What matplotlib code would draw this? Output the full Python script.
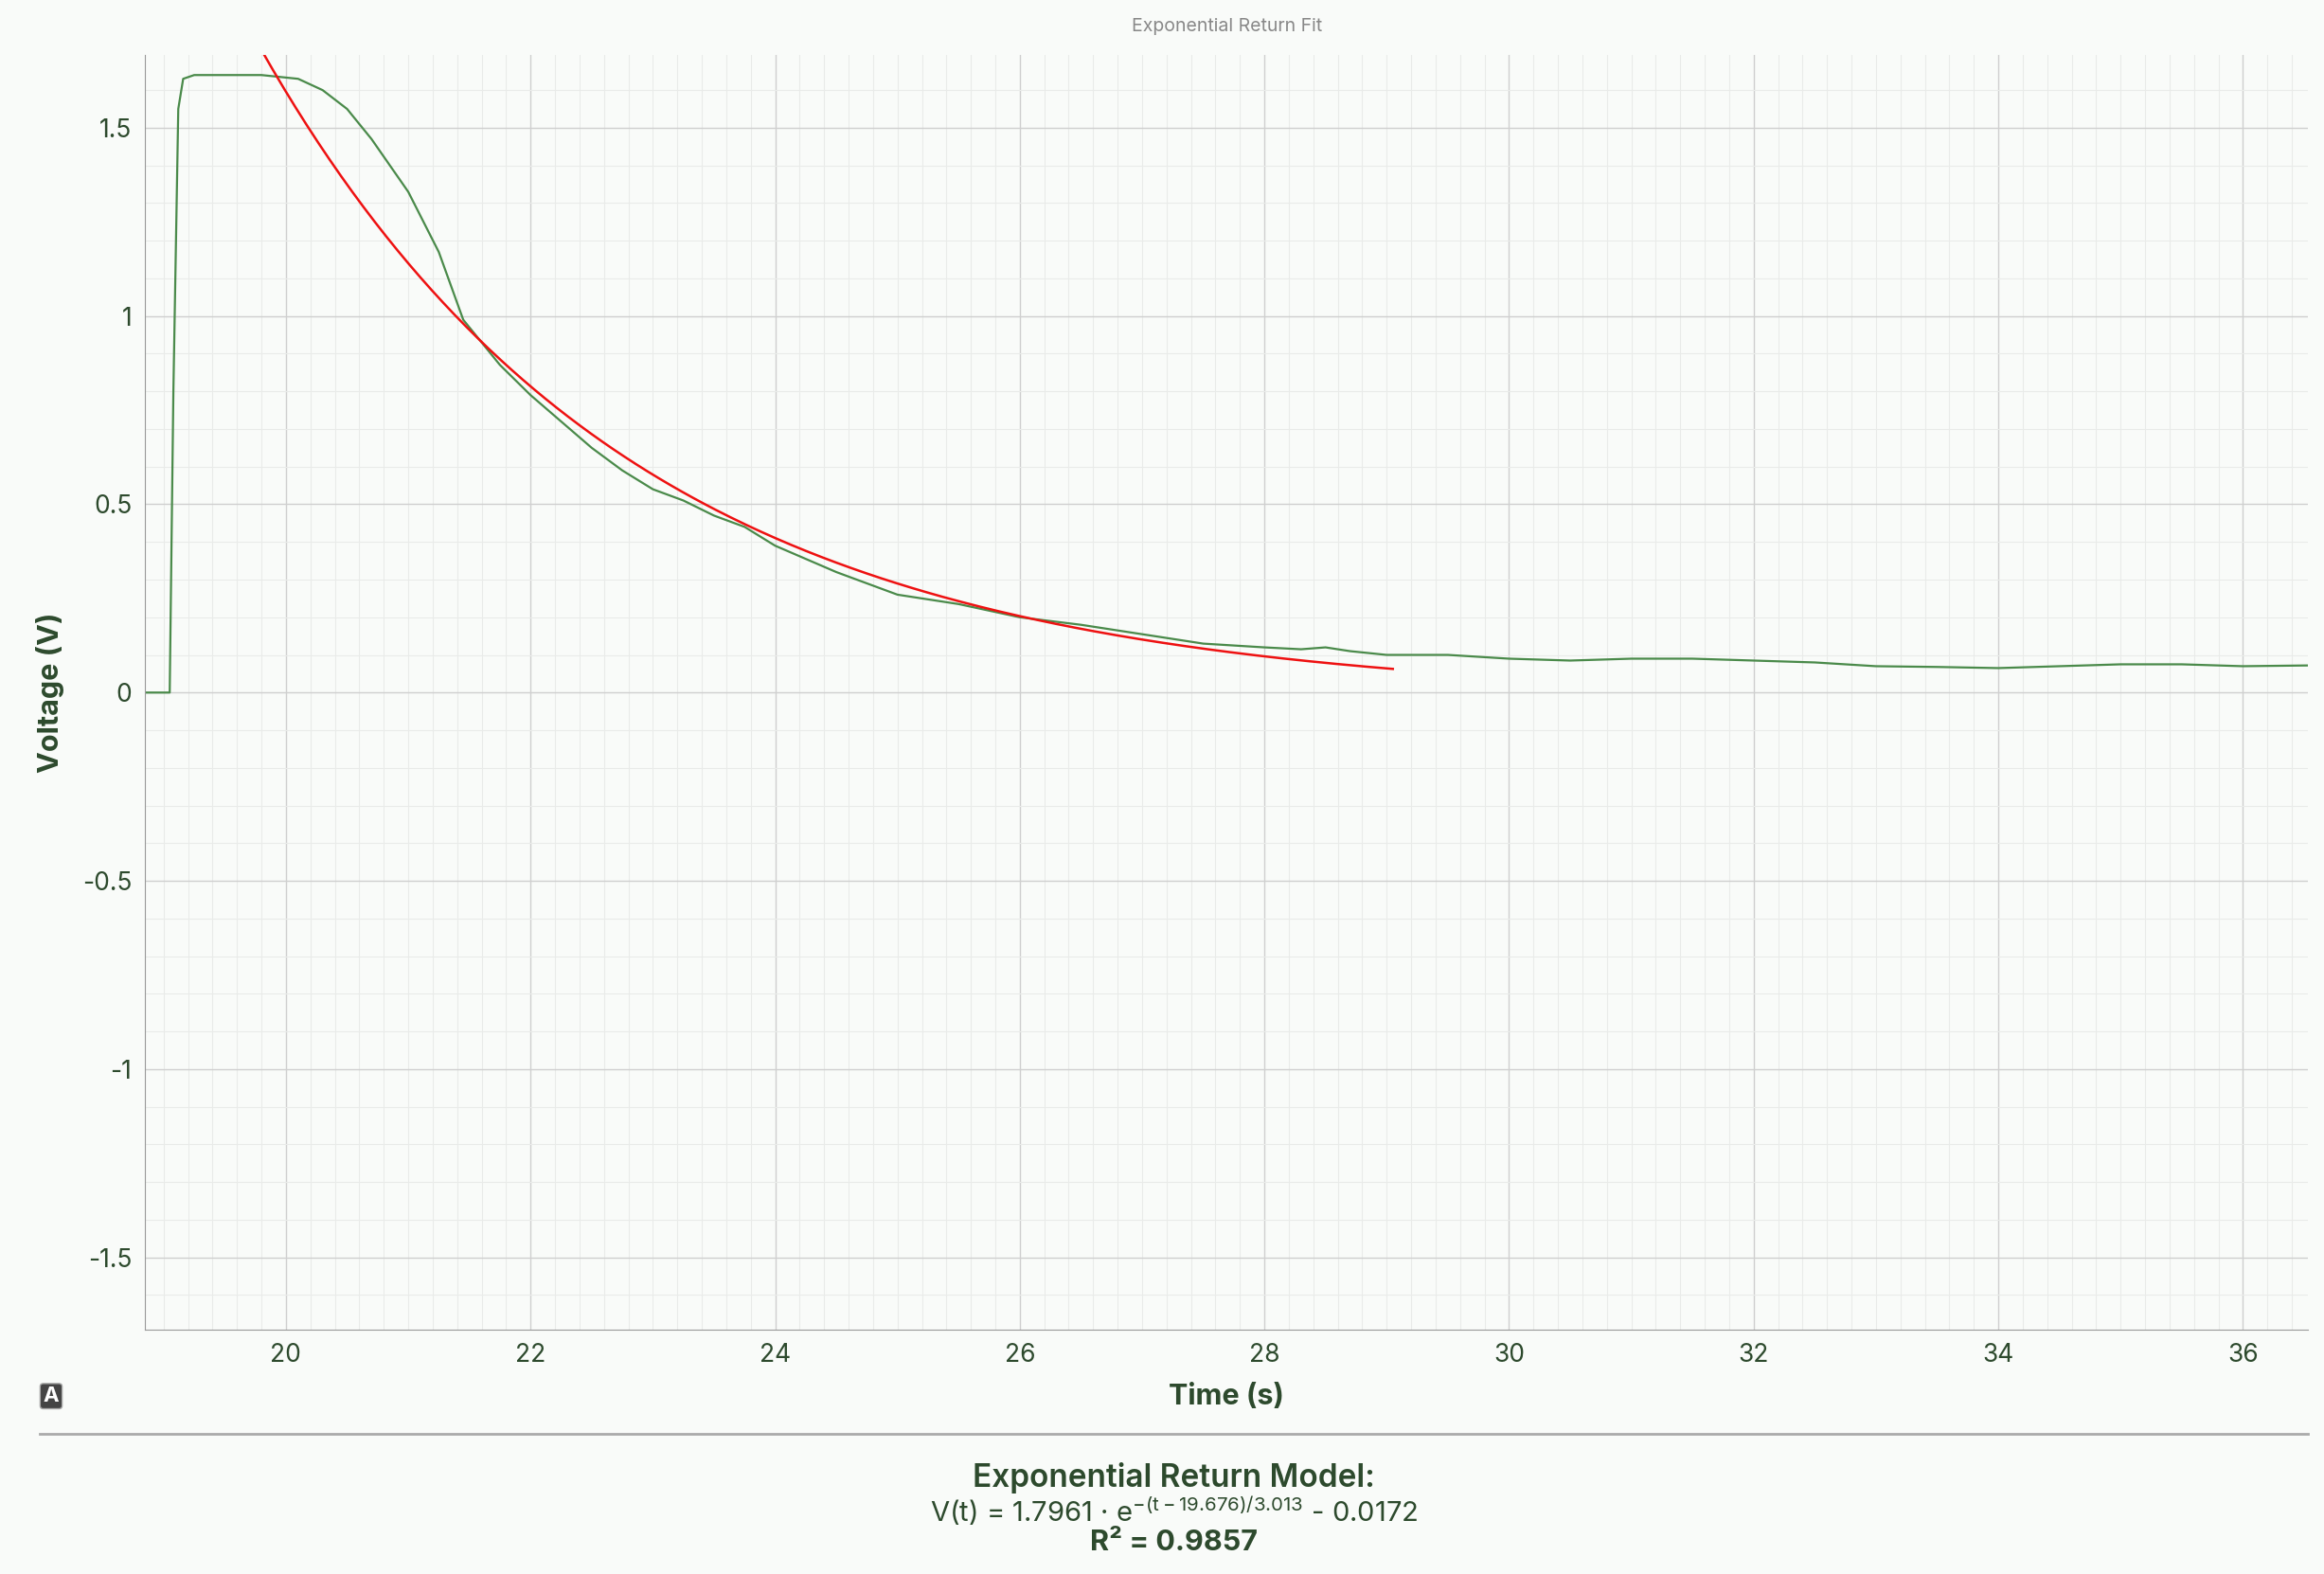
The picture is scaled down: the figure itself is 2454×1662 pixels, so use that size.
import numpy as np
import matplotlib
matplotlib.use("Agg")
import matplotlib.pyplot as plt
from matplotlib.ticker import MultipleLocator

plt.rcParams['font.family'] = ['Inter', 'DejaVu Sans']
plt.rcParams['mathtext.default'] = 'regular'

# measured trace (time s, voltage V)
t_data = [18.85, 19.0, 19.05, 19.08, 19.12, 19.16, 19.25, 19.5, 19.8, 20.1, 20.3, 20.5, 20.7,
          21.0, 21.25, 21.45, 21.75, 22.0, 22.25, 22.5, 22.75, 23.0, 23.25, 23.5, 23.75,
          24.0, 24.5, 25.0, 25.5, 26.0, 26.5, 27.0, 27.5, 28.0, 28.3, 28.5, 28.7, 29.0,
          29.5, 30.0, 30.5, 31.0, 31.5, 32.0, 32.5, 33.0, 33.5, 34.0, 34.5, 35.0, 35.5, 36.0, 36.53]
v_data = [0.0, 0.0, 0.0, 0.8, 1.55, 1.63, 1.64, 1.64, 1.64, 1.63, 1.60, 1.55, 1.47,
          1.33, 1.17, 0.99, 0.87, 0.79, 0.72, 0.65, 0.59, 0.54, 0.51, 0.47, 0.44,
          0.39, 0.32, 0.26, 0.235, 0.20, 0.18, 0.155, 0.13, 0.12, 0.115, 0.12, 0.11, 0.10,
          0.10, 0.09, 0.085, 0.09, 0.09, 0.085, 0.08, 0.07, 0.068, 0.065, 0.07, 0.075, 0.075, 0.07, 0.072]

# fit model parameters (from annotation)
fit_A, fit_t0, fit_tau, fit_c = 1.7961, 19.676, 3.013, -0.0172
fit_t_start, fit_t_end = 19.8, 29.05
r_squared = 0.9857

txt = '#2d4a2d'
bg = '#f9fbf9'
fig = plt.figure(figsize=(24.54, 16.62), dpi=100, facecolor=bg)
ax = fig.add_axes([0.0625, 0.155, 0.9305, 0.81])
ax.set_facecolor(bg)

ax.plot(t_data, v_data, color='#4a8a4a', lw=1.6)
tf = np.linspace(fit_t_start, fit_t_end, 300)
ax.plot(tf, fit_A*np.exp(-(tf-fit_t0)/fit_tau) + fit_c, color='#ee1111', lw=1.8)

ax.set_xlim(18.85, 36.53)
ax.set_ylim(-1.693, 1.693)
ax.xaxis.set_major_locator(MultipleLocator(2))
ax.xaxis.set_minor_locator(MultipleLocator(0.2))
ax.yaxis.set_major_locator(MultipleLocator(0.5))
ax.yaxis.set_minor_locator(MultipleLocator(0.1))
ax.yaxis.set_major_formatter(matplotlib.ticker.FuncFormatter(lambda v, p: f'{v:g}'))
ax.grid(which='major', color='#cfcfcf', lw=1.0)
ax.grid(which='minor', color='#e9ebe9', lw=0.8)
ax.set_axisbelow(True)
for s in ['top', 'right']:
    ax.spines[s].set_visible(False)
for s in ['left', 'bottom']:
    ax.spines[s].set_color('#999999')
ax.tick_params(which='both', length=0, labelsize=19, colors=txt, pad=10)
ax.set_xlabel('Time (s)', fontsize=22, fontweight='bold', color=txt, labelpad=12)
ax.set_ylabel('Voltage (V)', fontsize=22, fontweight='bold', color=txt, labelpad=14)
fig.text(0.528, 0.983, 'Exponential Return Fit', ha='center', va='center', fontsize=14, color='#888888')

fig.text(0.022, 0.113, 'A', ha='center', va='center', fontsize=16, fontweight='bold', color='white',
         bbox=dict(boxstyle='round,pad=0.15', fc='#444444', ec='#aaaaaa'))
fig.add_artist(plt.Line2D([0.017, 0.993], [0.089, 0.089], color='#aaaaaa', lw=2))
fig.text(0.505, 0.061, 'Exponential Return Model:', ha='center', va='center', fontsize=24, fontweight='semibold', color=txt)
fig.text(0.505, 0.040, r'V(t) = 1.7961 · e$^{-(t-19.676)/3.013}$ - 0.0172', ha='center', va='center', fontsize=21, color=txt)
fig.text(0.505, 0.020, f'R² = {r_squared}', ha='center', va='center', fontsize=22, fontweight='bold', color=txt)
fig.savefig('out.png', dpi=100, facecolor=bg)
